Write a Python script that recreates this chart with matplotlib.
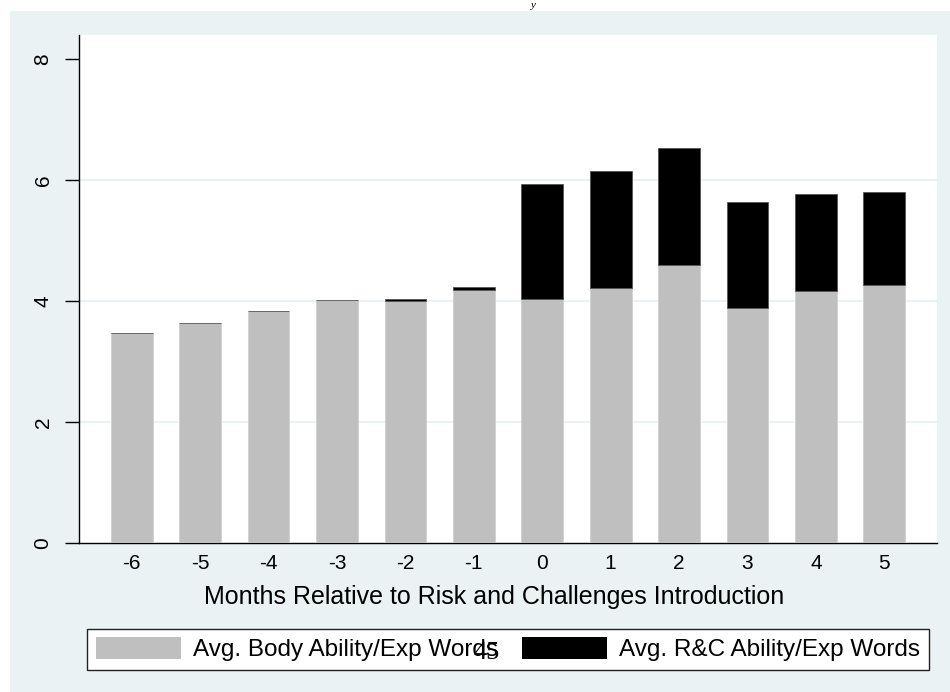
import numpy as np
import matplotlib
matplotlib.use('Agg')
import matplotlib.pyplot as plt
from matplotlib.patches import Rectangle, Patch

plt.rcParams['font.family'] = ['Liberation Sans', 'DejaVu Sans']

# データ
months = [-6, -5, -4, -3, -2, -1, 0, 1, 2, 3, 4, 5]
body_words = [3.47, 3.64, 3.84, 4.02, 4.00, 4.19, 4.03, 4.22, 4.60, 3.88, 4.17, 4.26]
rc_words = [0.0, 0.0, 0.0, 0.0, 0.03, 0.05, 1.90, 1.93, 1.93, 1.76, 1.60, 1.54]
y_ticks = [0, 2, 4, 6, 8]

BG = '#eaf2f3'
GRAY = '#bfbfbf'

fig = plt.figure(figsize=(9.5, 6.92), dpi=100)
fig.patches.append(Rectangle((10 / 950, 0), 940 / 950, 1 - 11 / 692,
                             transform=fig.transFigure, facecolor=BG,
                             edgecolor='none', zorder=-10))

ax = fig.add_axes([79 / 950, 1 - 543 / 692, 858 / 950, 508 / 692])
ax.set_facecolor('white')

x = np.arange(len(months))
ax.bar(x, body_words, width=0.61, color=GRAY, edgecolor='#d0d0d0', linewidth=0.6, zorder=3)
ax.bar(x, rc_words, width=0.61, bottom=body_words, color='black',
       edgecolor='#555555', linewidth=0.6, zorder=3)

ax.set_xlim(-0.77, len(months) - 1 + 0.77)
ax.set_ylim(0, 8.4)
ax.set_yticks(y_ticks)
ax.set_yticklabels([str(t) for t in y_ticks], rotation=90, va='center', fontsize=15)
ax.set_xticks(x)
ax.set_xticklabels([str(m) for m in months], fontsize=15)
ax.tick_params(axis='x', length=0, pad=8)
ax.tick_params(axis='y', length=10, width=1, pad=9)

for g in [2, 4, 6]:
    ax.axhline(g, color=BG, linewidth=1.5, zorder=1)

ax.spines['top'].set_visible(False)
ax.spines['right'].set_visible(False)
ax.spines['left'].set_linewidth(1)
ax.spines['bottom'].set_linewidth(1)

fig.text(494 / 950, 1 - 597 / 692, 'Months Relative to Risk and Challenges Introduction',
         ha='center', va='center', fontsize=18)

handles = [Patch(facecolor=GRAY, edgecolor='none'), Patch(facecolor='black', edgecolor='none')]
leg = fig.legend(handles, ['Avg. Body Ability/Exp Words', 'Avg. R&C Ability/Exp Words'],
                 loc='lower left', mode='expand', ncol=2,
                 bbox_to_anchor=(87 / 950, 1 - 670 / 692, 842 / 950, 45 / 692),
                 fontsize=17.5, handlelength=3.5, handleheight=1.0,
                 handletextpad=0.5, borderaxespad=0, borderpad=0.35,
                 fancybox=False, framealpha=1, edgecolor='#222222')
leg.get_frame().set_linewidth(1)

# ページ番号と上部の文字
fig.text(487 / 950, 1 - 653 / 692, '45', ha='center', va='center',
         fontsize=19, family=['Liberation Serif', 'DejaVu Serif'], zorder=10)
fig.text(533 / 950, 1 - 0.5 / 692, 'y', ha='center', va='top', style='italic',
         fontsize=8, family=['Liberation Serif', 'DejaVu Serif'])

fig.savefig('out.png', dpi=100)
